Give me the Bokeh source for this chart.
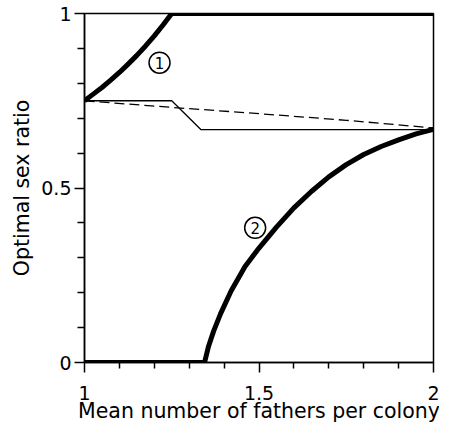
from bokeh.plotting import figure
from bokeh.models import Range1d, FixedTicker
from bokeh.core.properties import value
from bokeh.embed import file_html
from bokeh.resources import INLINE

# ---- data ----
curve1_x = [1.0, 1.025, 1.05, 1.075, 1.10, 1.125, 1.15, 1.175, 1.20, 1.225, 1.25, 2.0]
curve1_y = [0.75, 0.769, 0.788, 0.809, 0.831, 0.855, 0.880, 0.907, 0.936, 0.967, 1.0, 1.0]

curve2_x = [1.0, 1.344, 1.355, 1.37, 1.39, 1.42, 1.46, 1.50, 1.55, 1.60, 1.65,
            1.70, 1.75, 1.80, 1.85, 1.90, 1.95, 2.0]
curve2_y = [0.0, 0.0, 0.045, 0.09, 0.14, 0.205, 0.275, 0.328, 0.388, 0.443, 0.49,
            0.532, 0.567, 0.596, 0.619, 0.638, 0.655, 0.668]

thin_x = [1.0, 1.25, 1.334, 2.0]
thin_y = [0.75, 0.75, 0.667, 0.667]

dash_x = [1.0, 1.25, 1.5, 1.75, 2.0]
dash_y = [0.75, 0.731, 0.713, 0.694, 0.672]

label_x = [1.215, 1.489]
label_y = [0.859, 0.386]
label_text = ["1", "2"]

x_ticks = [1, 1.5, 2]
x_tick_labels = ["1", "1.5", "2"]
x_minor = [1.1, 1.2, 1.3, 1.4, 1.6, 1.7, 1.8, 1.9]
y_ticks = [0, 0.5, 1]
y_tick_labels = ["0", "0.5", "1"]
y_minor = [0.1, 0.2, 0.3, 0.4, 0.6, 0.7, 0.8, 0.9]

FONT = "DejaVu Sans"

p = figure(frame_width=349, frame_height=349,
           x_range=Range1d(1, 2), y_range=Range1d(0, 1),
           output_backend="svg", toolbar_location=None,
           min_border_left=84, min_border_right=6, min_border_top=13, min_border_bottom=10)
p.background_fill_color = "white"
p.border_fill_color = "white"
p.outline_line_color = "black"
p.outline_line_width = 1.5
p.xgrid.visible = False
p.ygrid.visible = False

p.line(dash_x, dash_y, line_color="black", line_width=1.3, line_dash="10 5")
p.line(thin_x, thin_y, line_color="black", line_width=1.3)
p.line(curve1_x, curve1_y, line_color="black", line_width=5, line_join="round")
p.line(curve2_x, curve2_y, line_color="black", line_width=5, line_join="round")

p.scatter(label_x, label_y, marker="circle", size=21, fill_color="white",
          line_color="black", line_width=1.5)
p.text(label_x, label_y, text=label_text, text_align="center", text_baseline="middle",
       text_font=value(FONT), text_font_size="15px", text_font_style="normal",
       text_color="black")

for ax, ticks, labels, minor, mlen in (
        (p.xaxis[0], x_ticks, x_tick_labels, x_minor, 6),
        (p.yaxis[0], y_ticks, y_tick_labels, y_minor, 7)):
    ax.ticker = FixedTicker(ticks=ticks, minor_ticks=minor)
    ax.major_label_overrides = {t: l for t, l in zip(ticks, labels)}
    ax.axis_line_width = 1.5
    ax.major_tick_line_width = 1.5
    ax.minor_tick_line_width = 1.5
    ax.major_tick_out = 10
    ax.major_tick_in = 0
    ax.minor_tick_out = mlen
    ax.minor_tick_in = 0
    ax.major_label_text_font = FONT
    ax.major_label_text_font_size = "19px"
    ax.major_label_text_color = "black"
    ax.axis_label_text_font = FONT
    ax.axis_label_text_font_size = "20.5px"
    ax.axis_label_text_font_style = "normal"
    ax.axis_label_text_color = "black"

p.xaxis.axis_label = "Mean number of fathers per colony"
p.yaxis.axis_label = "Optimal sex ratio"
p.xaxis.major_label_standoff = 13
p.yaxis.major_label_standoff = 3
p.xaxis.axis_label_standoff = -4
p.yaxis.axis_label_standoff = 4

open("out.html", "w").write(file_html(p, INLINE))
